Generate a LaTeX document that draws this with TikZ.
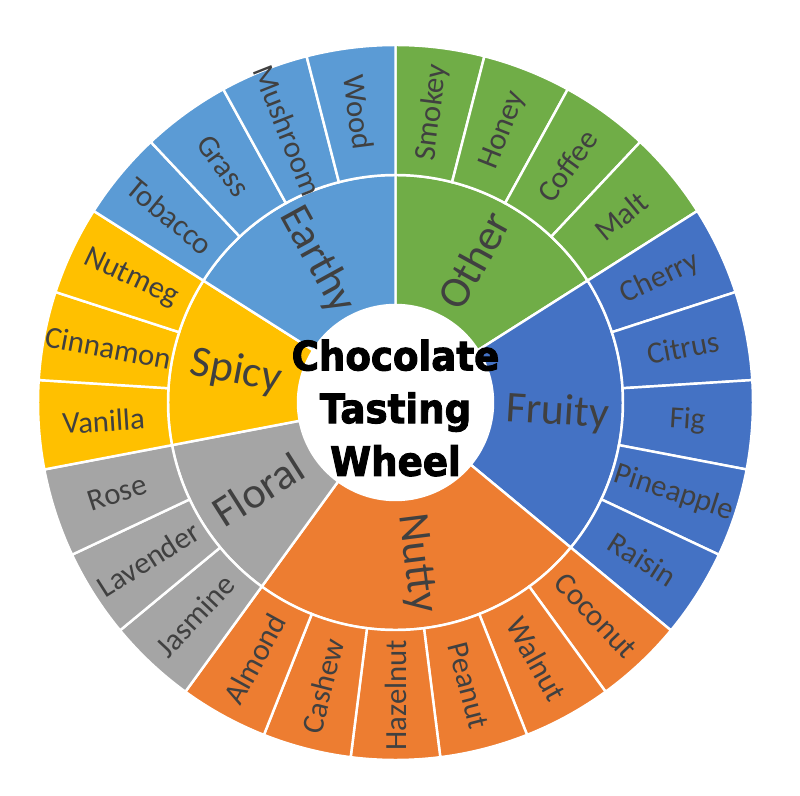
\documentclass[tikz,border=0pt]{standalone}
\usepackage{fontspec}
\setmainfont{Carlito}
\newfontfamily\titlefont[BoldFeatures={FakeBold=2.5}]{DejaVu Sans}

\definecolor{earthy}{HTML}{5B9BD5}
\definecolor{other}{HTML}{70AD47}
\definecolor{fruity}{HTML}{4472C4}
\definecolor{nutty}{HTML}{ED7D31}
\definecolor{floral}{HTML}{A5A5A5}
\definecolor{spicy}{HTML}{FFC000}
\definecolor{labelgray}{HTML}{404040}

\begin{document}
\begin{tikzpicture}[
	leaf/.style={text=labelgray, font=\fontsize{17.5}{20}\selectfont, inner sep=0pt},
	cat/.style={text=labelgray, font=\fontsize{25}{28}\selectfont, inner sep=0pt},
	ring/.style={draw=white, line width=1.4pt}]

		% frame of the picture
		\fill [white] (-7.91, -7.85) rectangle (8.09, 8.05);
		\useasboundingbox (-7.91, -7.85) rectangle (8.09, 8.05);

		% inner ring: the six families
		\foreach \name/\first/\n/\col [count=\k] in {Other/0/4/other, Fruity/4/5/fruity, Nutty/9/6/nutty,
				Floral/15/3/floral, Spicy/18/3/spicy, Earthy/21/4/earthy} {
			\pgfmathsetmacro\a{90-14.4*\first}
			\pgfmathsetmacro\b{90-14.4*(\first+\n)}
			\pgfmathsetmacro\m{(\a+\b)/2}
			\pgfmathsetmacro\rot{\m<-89.9 ? \m+180 : \m}
			\filldraw [ring, fill=\col] (\a:1.95) arc [start angle=\a, end angle=\b, radius=1.95]
				-- (\b:4.55) arc [start angle=\b, end angle=\a, radius=4.55] -- cycle;
			\node [cat, rotate=\rot] (cat\k) at (\m:3.25) {\name};
		}

		% outer ring: one slice per flavour
		\foreach \name/\col [count=\i from 0] in {Smokey/other, Honey/other, Coffee/other, Malt/other,
				Cherry/fruity, Citrus/fruity, Fig/fruity, Pineapple/fruity, Raisin/fruity,
				Coconut/nutty, Walnut/nutty, Peanut/nutty, Hazelnut/nutty, Cashew/nutty, Almond/nutty,
				Jasmine/floral, Lavender/floral, Rose/floral,
				Vanilla/spicy, Cinnamon/spicy, Nutmeg/spicy,
				Tobacco/earthy, Grass/earthy, Mushroom/earthy, Wood/earthy} {
			\pgfmathsetmacro\a{90-14.4*\i}
			\pgfmathsetmacro\b{90-14.4*(\i+1)}
			\pgfmathsetmacro\m{(\a+\b)/2}
			\pgfmathsetmacro\rot{\m<-89.9 ? \m+180 : \m}
			\filldraw [ring, fill=\col] (\a:4.55) arc [start angle=\a, end angle=\b, radius=4.55]
				-- (\b:7.15) arc [start angle=\b, end angle=\a, radius=7.15] -- cycle;
			\node [leaf, rotate=\rot] (leaf\i) at (\m:5.85) {\name};
		}

		% title in the hole
		\node [align=center, inner sep=0pt, xscale=0.92,
			font=\titlefont\bfseries\fontsize{23}{30}\selectfont] (title) at (0, -0.11)
			{Chocolate\\Tasting\\Wheel};
	\end{tikzpicture}
\end{document}
